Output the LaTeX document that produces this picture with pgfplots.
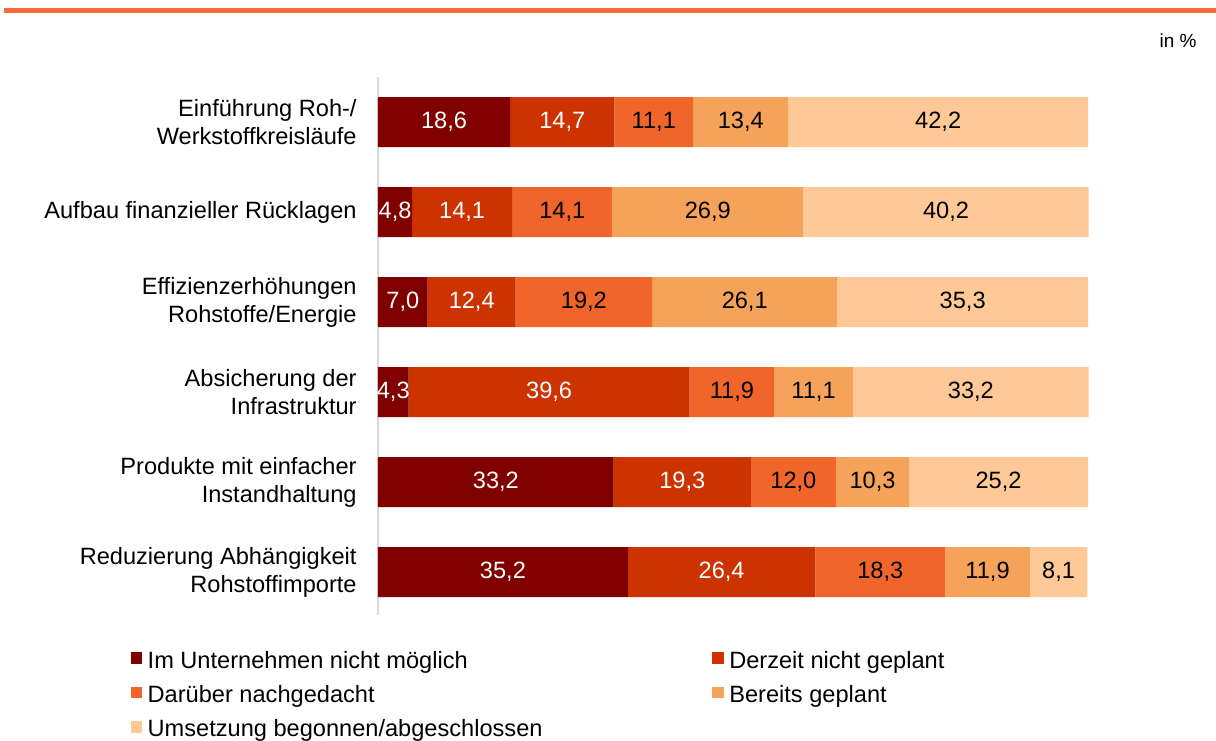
\documentclass[border=0pt]{standalone}
\usepackage{fontspec}
\setmainfont{Liberation Sans}
\usepackage{pgfplots}
\usepackage{pgfplotstable}
\pgfplotsset{compat=1.18}

\definecolor{c1}{RGB}{128,0,0}
\definecolor{c2}{RGB}{204,51,0}
\definecolor{c3}{RGB}{240,102,42}
\definecolor{c4}{RGB}{245,162,90}
\definecolor{c5}{RGB}{254,201,150}
\definecolor{topline}{RGB}{250,105,60}
\definecolor{axisgray}{RGB}{217,217,217}

\pgfplotstableread{
cat a b c d e
5 18.6 14.7 11.1 13.4 42.2
4 4.8 14.1 14.1 26.9 40.2
3 7.0 12.4 19.2 26.1 35.3
2 4.3 39.6 11.9 11.1 33.2
1 33.2 19.3 12.0 10.3 25.2
0 35.2 26.4 18.3 11.9 8.1
}\data

\newcommand{\lbl}{\fontsize{11.8}{14}\selectfont}

\begin{document}
\begin{tikzpicture}[font=\lbl]
\path[use as bounding box] (0,0) rectangle (608pt,-370pt);
\draw[topline, line width=2.5pt] (2pt,-5pt) -- (608pt,-5pt);
\node[anchor=base east, inner sep=0pt, font=\fontsize{9.5}{11}\selectfont] at (598.5pt,-23.85pt) {in \%};

\begin{axis}[
  at={(189pt,-38.5pt)}, anchor=north west,
  scale only axis,
  width=355pt, height=269.1pt,
  xbar stacked,
  bar width=25pt,
  xmin=0, xmax=100,
  ymin=-0.48, ymax=5.5,
  axis x line=none,
  axis y line*=left,
  y axis line style={axisgray, line width=0.6pt},
  major tick length=0pt,
  ytick={0,1,2,3,4,5},
  yticklabels={{Reduzierung Abhängigkeit\\Rohstoffimporte},
               {Produkte mit einfacher\\Instandhaltung},
               {Absicherung der\\Infrastruktur},
               {Effizienzerhöhungen\\Rohstoffe/Energie},
               {Aufbau finanzieller Rücklagen},
               {Einführung Roh-/\\Werkstoffkreisläufe}},
  yticklabel style={font=\lbl, align=right, inner sep=0pt, xshift=-10.5pt},
  point meta=explicit,
  nodes near coords={\pgfmathprintnumber[fixed,fixed zerofill,precision=1,use comma,assume math mode=true]{\pgfplotspointmeta}},
  nodes near coords style={font=\lbl, anchor=center},
  legend columns=2,
  legend cell align=left,
  legend style={at={(-0.34831,-0.0669)}, anchor=north west, draw=none, fill=none,
    inner sep=0pt, outer sep=0pt, font=\lbl, row sep=7.1pt,
    nodes={inner sep=0pt},
    /tikz/every odd column/.append style={column sep=2.7pt}},
  legend image code/.code={\fill[#1,draw=none] (0pt,-1.4pt) rectangle (5.8pt,4.4pt);},
  clip=false,
]
\addplot[fill=c1, draw=none, nodes near coords style={text=white}] table[x=a, y=cat, meta=a] {\data};
\addplot[fill=c2, draw=none, nodes near coords style={text=white}] table[x=b, y=cat, meta=b] {\data};
\addplot[fill=c3, draw=none, nodes near coords style={text=black}] table[x=c, y=cat, meta=c] {\data};
\addplot[fill=c4, draw=none, nodes near coords style={text=black}] table[x=d, y=cat, meta=d] {\data};
\addplot[fill=c5, draw=none, nodes near coords style={text=black}] table[x=e, y=cat, meta=e] {\data};
\legend{\makebox[282.3pt][l]{Im Unternehmen nicht möglich}, Derzeit nicht geplant,
        \makebox[282.3pt][l]{Darüber nachgedacht}, Bereits geplant,
        \makebox[282.3pt][l]{Umsetzung begonnen/abgeschlossen}}
\end{axis}
\end{tikzpicture}
\end{document}
